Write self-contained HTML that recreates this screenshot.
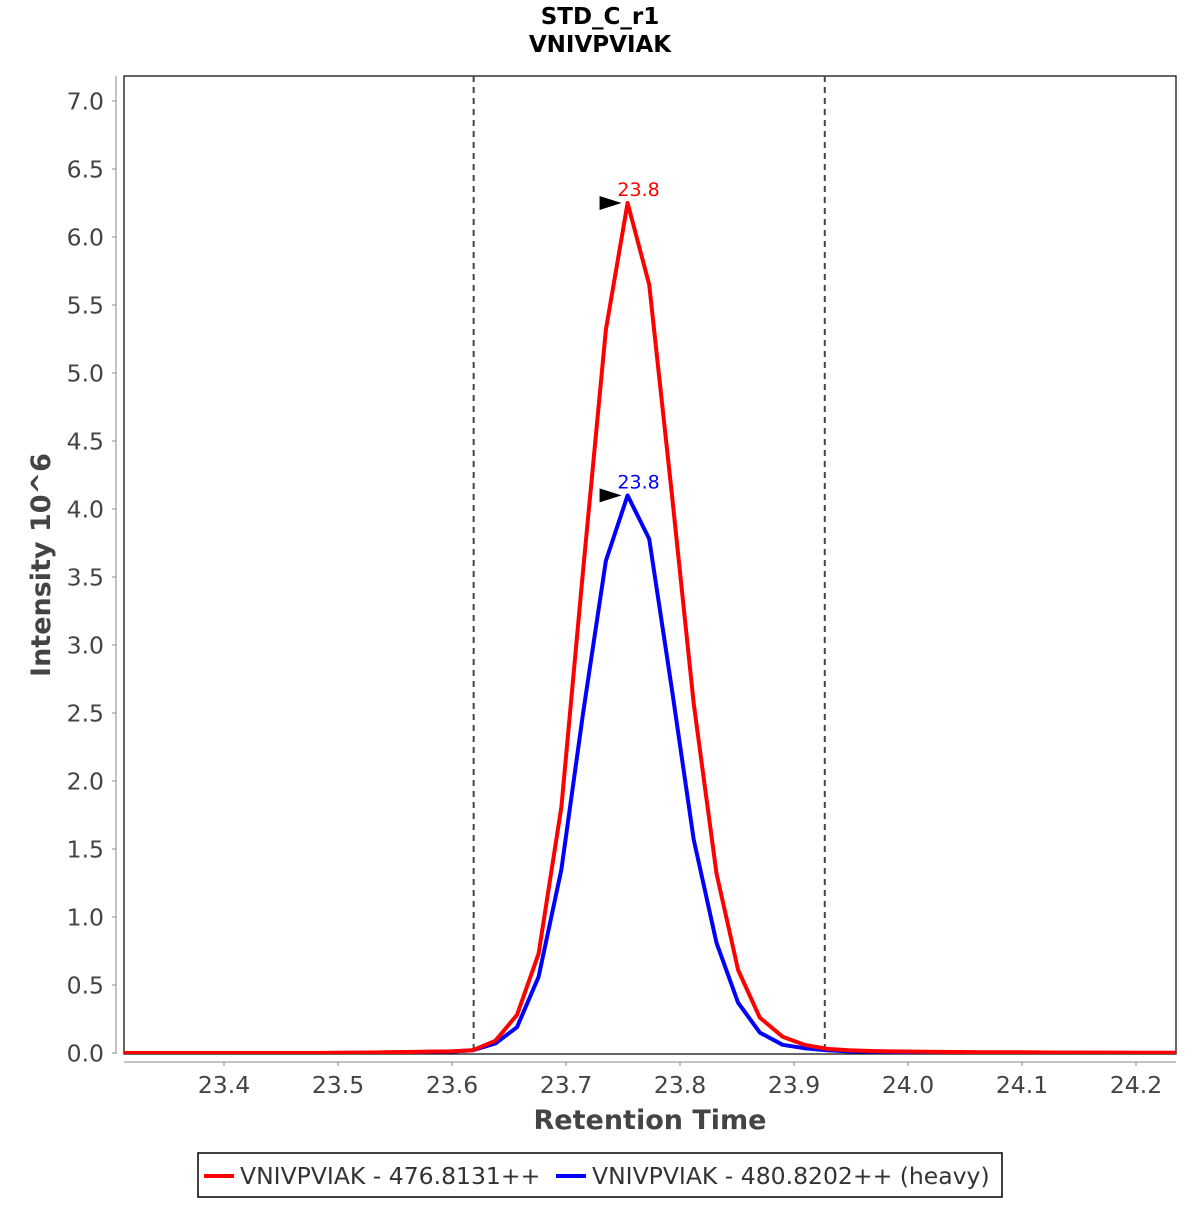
<!DOCTYPE html>
<html><head><meta charset="utf-8"><style>
body{margin:0;background:#fff;}
svg text{font-family:"DejaVu Sans","Liberation Sans",sans-serif;}
</style></head><body>
<svg id="chart" width="1200" height="1200" viewBox="0 0 1200 1200">
<text x="600" y="24" text-anchor="middle" font-size="23" font-weight="bold">STD_C_r1</text>
<text x="600" y="52" text-anchor="middle" font-size="23" font-weight="bold">VNIVPVIAK</text>
<rect x="124" y="76" width="1052" height="978" fill="#fff" stroke="#000" stroke-width="1.2"/>
<g id="yaxis"></g>
<g id="xaxis"></g>
<text transform="translate(50,565) rotate(-90)" text-anchor="middle" font-size="27" font-weight="bold" fill="#444">Intensity 10^6</text>
<text x="650" y="1129" text-anchor="middle" font-size="27" font-weight="bold" fill="#444">Retention Time</text>
<g id="marks"></g>
<g>
<rect x="198" y="1153" width="804" height="44" fill="#fff" stroke="#000" stroke-width="1.5"/>
<line x1="204" y1="1176" x2="234" y2="1176" stroke="#f00" stroke-width="4"/>
<text x="240" y="1184" font-size="23.5" fill="#333">VNIVPVIAK - 476.8131++</text>
<line x1="556" y1="1176" x2="586" y2="1176" stroke="#00f" stroke-width="4"/>
<text x="592" y="1184" font-size="23.5" fill="#333">VNIVPVIAK - 480.8202++ (heavy)</text>
</g>
</svg>
<script>
const times=[23.308,23.327,23.347,23.366,23.385,23.405,23.424,23.444,23.463,23.482,23.502,23.521,23.541,23.560,23.579,23.599,23.618,23.638,23.657,23.676,23.696,23.715,23.735,23.754,23.773,23.793,23.812,23.832,23.851,23.870,23.890,23.909,23.929,23.948,23.967,23.987,24.006,24.026,24.045,24.064,24.084,24.103,24.123,24.142,24.161,24.181,24.200,24.220,24.239];
const lightValues=[0,0,0,0,0,0,0,0,0,0,0.002,0.003,0.005,0.007,0.01,0.012,0.02,0.09,0.28,0.73,1.81,3.55,5.32,6.25,5.65,4.1,2.57,1.32,0.61,0.26,0.12,0.06,0.03,0.02,0.015,0.012,0.01,0.008,0.007,0.006,0.005,0.005,0.004,0.004,0.003,0.003,0.002,0.002,0.002];
const heavyValues=[0,0,0,0,0,0,0,0,0,0,0.001,0.002,0.004,0.006,0.008,0.01,0.02,0.07,0.19,0.56,1.35,2.5,3.62,4.1,3.78,2.67,1.57,0.81,0.37,0.15,0.06,0.035,0.02,0.012,0.01,0.008,0.006,0.005,0.004,0.004,0.003,0.003,0.002,0.002,0.002,0.001,0.001,0.001,0.001];
const yTicks=[0,0.5,1,1.5,2,2.5,3,3.5,4,4.5,5,5.5,6,6.5,7];
const xTicks=[23.4,23.5,23.6,23.7,23.8,23.9,24.0,24.1,24.2];
const boundaries=[23.619,23.927];
const peakLabels=["23.8","23.8"];
const NS="http://www.w3.org/2000/svg";
const X=t=>110+(t-23.3)*1140;
const Y=v=>1053-v*136;
function mk(tag,attrs,parent){const e=document.createElementNS(NS,tag);for(const k in attrs)e.setAttribute(k,attrs[k]);parent.appendChild(e);return e;}
const ya=document.getElementById('yaxis'),xa=document.getElementById('xaxis'),marks=document.getElementById('marks');
mk('line',{x1:116,y1:76,x2:116,y2:1054,stroke:'#888','stroke-width':1},ya);
yTicks.forEach(v=>{
 const t=mk('line',{x1:112,y1:Y(v),x2:116,y2:Y(v),stroke:'#888'},ya);
 
 
 const l=mk('text',{x:104,y:Y(v)+8.5,'text-anchor':'end','font-size':23.5,fill:'#444'},ya);
 l.textContent=v.toFixed(1);
 
 
});
mk('line',{x1:124,y1:1062,x2:1176,y2:1062,stroke:'#888','stroke-width':1},xa);
xTicks.forEach(v=>{
 const t=mk('line',{x1:X(v),y1:1062,x2:X(v),y2:1066,stroke:'#888'},xa);
 
 
 const l=mk('text',{x:X(v),y:1093,'text-anchor':'middle','font-size':23.5,fill:'#444'},xa);
 l.textContent=v.toFixed(1);
 
 
});
const clip=mk('clipPath',{id:'pc'},marks);mk('rect',{x:124,y:76,width:1052,height:978},clip);
const g=mk('g',{'clip-path':'url(#pc)'},marks);
boundaries.forEach(b=>{
 const d=mk('line',{x1:X(b),y1:76,x2:X(b),y2:1054,stroke:'#444','stroke-width':2,'stroke-dasharray':'6,5'},g);
 
 
});
function series(vals,color,name,labelIdx){
 const pts=vals.map((v,i)=>X(times[i]).toFixed(1)+','+Y(v).toFixed(1)).join(' ');
 const p=mk('polyline',{points:pts,fill:'none',stroke:color,'stroke-width':4,'stroke-linejoin':'round'},g);
 
 
 let mi=0;vals.forEach((v,i)=>{if(v>vals[mi])mi=i;});
 const px=X(times[mi]),py=Y(vals[mi]);
 const a=mk('polygon',{points:`${px-28},${py-7} ${px-6},${py} ${px-28},${py+7}`,fill:'#000'},marks);
 
 
 const t=mk('text',{x:px+11,y:py-7,'text-anchor':'middle','font-size':19,fill:color},marks);
 t.textContent=peakLabels[labelIdx];
 
 
}
series(heavyValues,'#00f','heavy-series',1);
series(lightValues,'#f00','light-series',0);
</script>
</body></html>
